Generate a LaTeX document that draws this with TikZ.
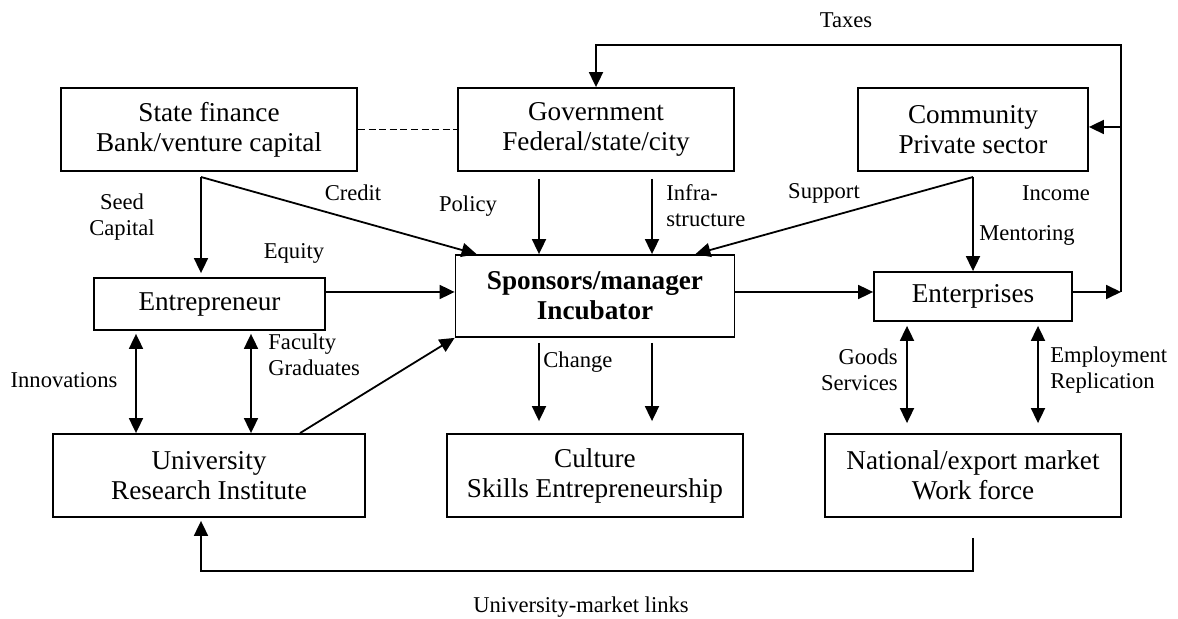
\documentclass[tikz,border=0pt]{standalone}
\usepackage{fontspec}
\setmainfont{Liberation Serif}
\usetikzlibrary{arrows.meta,positioning,calc}
\tikzset{
  >={Triangle[length=7.5pt,width=7pt]},
  block/.style={draw=black,line width=0.9pt,align=center,font=\fontsize{13.6}{15}\selectfont,inner sep=0pt,minimum height=41.5pt},
  lbl/.style={font=\fontsize{11.3}{13}\selectfont,inner sep=0pt},
  flow/.style={->,line width=0.9pt},
  dual/.style={<->,line width=0.9pt},
  link/.style={line width=0.9pt}
}

\begin{document}
\begin{tikzpicture}[x=0.5pt,y=-0.5pt]
  \useasboundingbox (0,0) rectangle (1178,619);
  \node[block,minimum width=148pt] (fin) at (209,129.5) {State finance\\Bank/venture capital};
  \node[block,minimum width=138pt] (gov) at (596,129.5) {Government\\Federal/state/city};
  \node[block,minimum width=115pt] (com) at (973,129.5) {Community\\Private sector};
  \node[block,minimum width=115.5pt,minimum height=26pt] (ent) at (209.5,304) {Entrepreneur};
  \node[block,minimum width=139.5pt,minimum height=41pt,font=\fontsize{13.6}{15}\selectfont\bfseries] (inc) at (595,296) {Sponsors/manager\\Incubator};
  \node[block,minimum width=99pt,minimum height=24.5pt] (enp) at (973,296.5) {Enterprises};
  \node[block,minimum width=156pt] (uni) at (209,475.5) {University\\Research Institute};
  \node[block,minimum width=148pt] (cul) at (595,475.5) {Culture\\Skills Entrepreneurship};
  \node[block,minimum width=148pt] (mkt) at (973,475.5) {National/export market\\Work force};

  \coordinate (jn) at (1121,292);
  \coordinate (tx) at (1121,45);
  \coordinate (ic) at (1121,127);
  \coordinate (sf) at (201,177);
  \coordinate (cm) at (973,177);

  \draw[link,dash pattern=on 3.5pt off 1.8pt] (fin.east) -- (gov.west);
  \draw[flow] (enp.east |- jn) -- (jn);
  \draw[flow] (jn) -- (tx) -| (gov.north);
  \draw[flow] (ic) -- (com.east |- ic);
  \draw[flow] (sf) -- ($(sf |- ent.north)+(0,-4)$);
  \draw[flow] (sf) -- ($(inc.north west)+(22,0)$);
  \draw[flow] ($(gov.south)+(-57,7)$) -- ($(inc.north)+(-56,0)$);
  \draw[flow] ($(gov.south)+(56,7)$) -- ($(inc.north)+(57,0)$);
  \draw[flow] (cm) -- ($(inc.north east)+(-40,0)$);
  \draw[flow] (cm) -- (enp.north);
  \draw[flow] (ent.east |- jn) -- (inc.west |- jn);
  \draw[flow] (inc.east |- jn) -- (enp.west |- jn);
  \draw[flow] ($(inc.south)+(-56,5)$) -- ($(cul.north)+(-56,-12)$);
  \draw[flow] ($(inc.south)+(57,5)$) -- ($(cul.north)+(57,-12)$);
  \draw[dual] ($(ent.south)+(-73.5,3)$) -- ($(ent.south |- uni.north)+(-73.5,0)$);
  \draw[dual] ($(ent.south)+(41.5,3)$) -- ($(ent.south |- uni.north)+(41.5,0)$);
  \draw[flow] ($(uni.north)+(91,0)$) -- (inc.south west);
  \draw[dual] ($(enp.south)+(-66,4)$) -- ($(enp.south |- mkt.north)+(-66,-10)$);
  \draw[dual] ($(enp.south)+(65,4)$) -- ($(enp.south |- mkt.north)+(65,-10)$);
  \draw[flow] ($(mkt.south)+(0,20)$) -- ++(0,33) -| ($(uni.south)+(-8,3)$);

  \node[lbl] (taxes) at (846,20) {Taxes};
  \node[lbl] (income) at (1056,193) {Income};
  \node[lbl,align=center] (seed) at (122,217) {Seed\\Capital};
  \node[lbl] (credit) at (353,193) {Credit};
  \node[lbl] (policy) at (468,206) {Policy};
  \node[lbl,align=left,anchor=west] (infra) at (666,206) {Infra-\\structure};
  \node[lbl] (support) at (824,193) {Support};
  \node[lbl] (mentor) at (1027,235) {Mentoring};
  \node[lbl] (equity) at (294,253) {Equity};
  \node[lbl,align=left,anchor=west] (faculty) at (268,355) {Faculty\\Graduates};
  \node[lbl] (innov) at (64,380) {Innovations};
  \node[lbl,anchor=west] (change) at (543,362) {Change};
  \node[lbl,align=right,anchor=east] (goods) at (898,370) {Goods\\Services};
  \node[lbl,align=left,anchor=west] (employ) at (1050,370) {Employment\\Replication};
  \node[lbl] (links) at (581,607) {University-market links};
\end{tikzpicture}
\end{document}
